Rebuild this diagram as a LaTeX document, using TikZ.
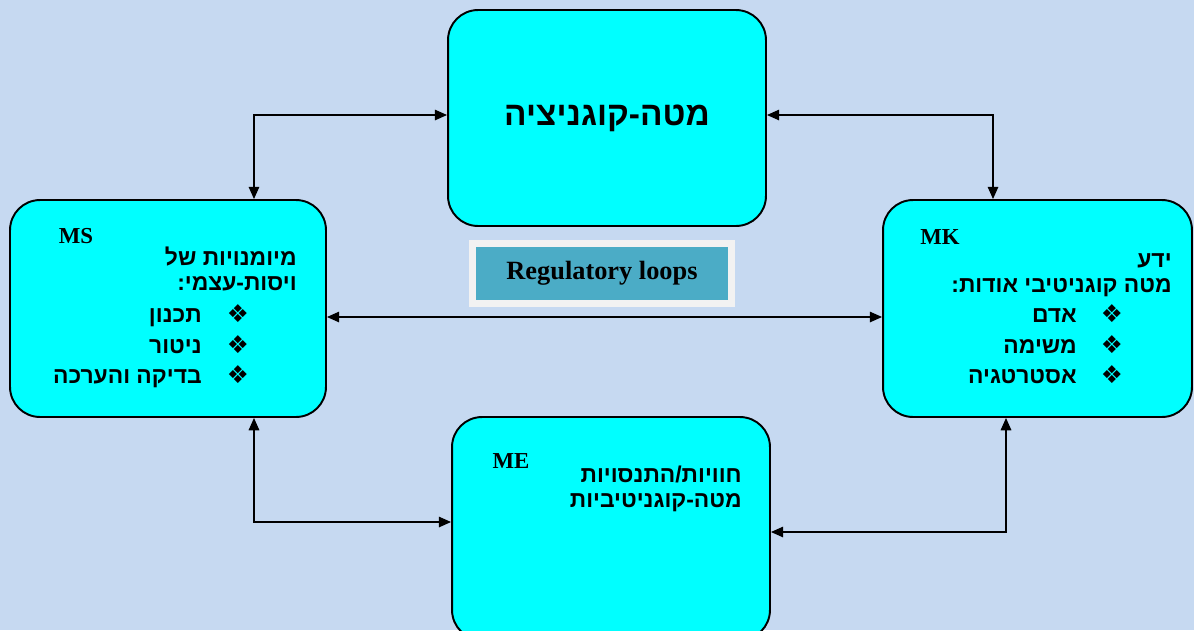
\documentclass[tikz,border=0pt]{standalone}
\usepackage{fontspec}
\setmainfont{Liberation Serif}
\newfontfamily\hebfont[Script=Hebrew]{Liberation Sans}
\newfontfamily\symfont{DejaVu Sans}
\TeXXeTstate=1
\usetikzlibrary{arrows.meta}
\definecolor{bgblue}{HTML}{C6D9F1}
\definecolor{boxcyan}{HTML}{00FFFF}
\definecolor{loopteal}{HTML}{4BACC6}
\definecolor{loopframe}{HTML}{F2F2F2}

\begin{document}
\begin{tikzpicture}[x=0.02cm,y=-0.02cm,
  mbox/.style={draw=black,line width=1.1pt,fill=boxcyan,rounded corners=0.6cm,inner sep=0pt},
  biarrow/.style={line width=0.8pt,{Triangle[length=7pt,width=6pt]}-{Triangle[length=7pt,width=6pt]}},
  heb/.style={font=\hebfont\bfseries\fontsize{13}{16}\selectfont,inner sep=0pt,anchor=base east},
  tag/.style={font=\bfseries\fontsize{13}{15}\selectfont,inner sep=0pt},
  bul/.style={font=\symfont\fontsize{14}{16}\selectfont,inner sep=0pt}]
  \fill[bgblue] (0,0) rectangle (1194,630);
  \useasboundingbox (0,0) rectangle (1194,630);

  % the four boxes
  \node[mbox,minimum width=6.36cm,minimum height=4.32cm] (mc) at (607,118) {};
  \node[mbox,minimum width=6.32cm,minimum height=4.34cm] (ms) at (168,308.5) {};
  \node[mbox,minimum width=6.18cm,minimum height=4.34cm] (mk) at (1037.5,308.5) {};
  \node[mbox,minimum width=6.36cm,minimum height=4.46cm] (me) at (611,528.5) {};

  \node[draw=loopframe,line width=4pt,fill=loopteal,minimum width=5.19cm,minimum height=1.2cm,
    font=\bfseries\fontsize{15}{18}\selectfont] (reg) at (602,273.5) {Regulatory loops};

  % loops
  \draw[biarrow] ([xshift=1.72cm]ms.north) |- ([yshift=0.06cm]mc.west);
  \draw[biarrow] ([yshift=0.06cm]mc.east) -| ([xshift=-0.89cm]mk.north);
  \draw[biarrow] ([yshift=-0.17cm]ms.east) -- ([yshift=-0.17cm]mk.west);
  \draw[biarrow] ([xshift=1.72cm]ms.south) |- ([yshift=0.13cm]me.west);
  \draw[biarrow] ([xshift=-0.63cm]mk.south) |- ([yshift=-0.07cm]me.east);

  % texts
  \node[font=\hebfont\bfseries\fontsize{19}{23}\selectfont,inner sep=0pt,anchor=base] (mctitle)
    at (607,125) {\beginR מטה-קוגניציה\endR};

  \node[tag] (mstag) at (76,236) {MS};
  \node[heb] (ms1) at (297,265) {\beginR מיומנויות של\endR};
  \node[heb] (ms2) at (297,290) {\beginR ויסות-עצמי:\endR};
  \foreach \entry/\yy [count=\i] in {תכנון/322,ניטור/353,בדיקה והערכה/383} {
    \node[heb] (msb\i) at (202,\yy) {\beginR\entry\endR};
    \node[bul] (msd\i) at (238,\yy-8) {❖};
  }

  \node[tag] (mktag) at (940,237) {MK};
  \node[heb] (mk1) at (1172,267) {\beginR ידע\endR};
  \node[heb] (mk2) at (1172,292) {\beginR מטה קוגניטיבי אודות:\endR};
  \foreach \entry/\yy [count=\i] in {אדם/322,משימה/353,אסטרטגיה/383} {
    \node[heb] (mkb\i) at (1077,\yy) {\beginR\entry\endR};
    \node[bul] (mkd\i) at (1112,\yy-8) {❖};
  }

  \node[tag] (metag) at (511,461) {ME};
  \node[heb] (me1) at (742,482) {\beginR חוויות/התנסויות\endR};
  \node[heb] (me2) at (742,507) {\beginR מטה-קוגניטיביות\endR};
\end{tikzpicture}
\end{document}
